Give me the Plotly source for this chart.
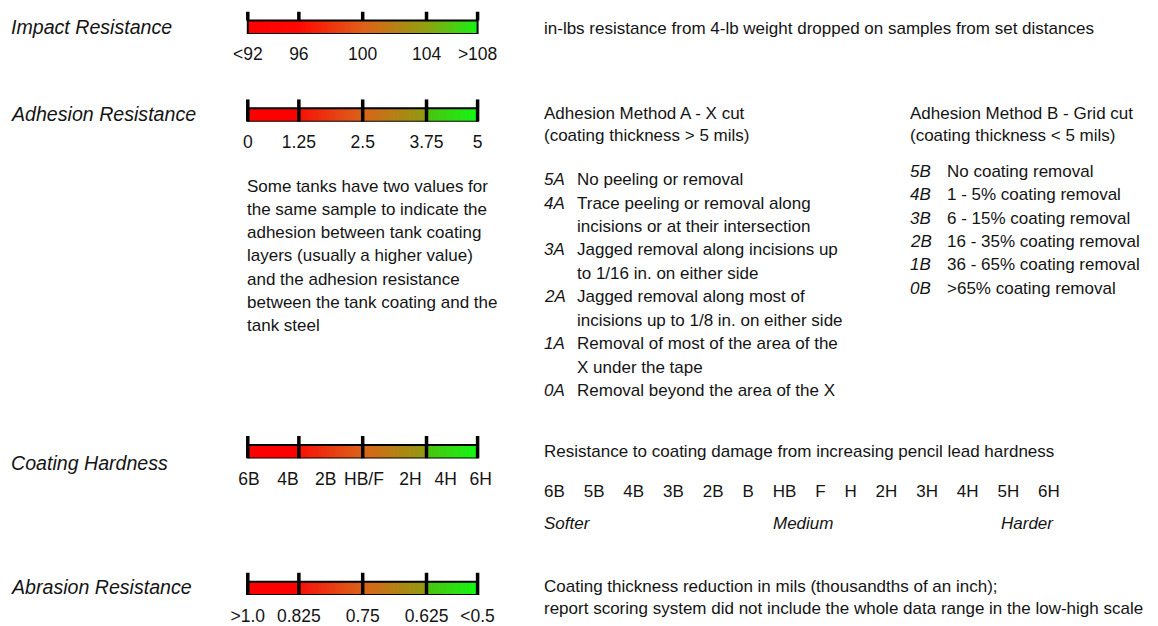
import numpy as np
import plotly.graph_objects as go

# ---------------- data ----------------
scale_titles = ["Impact Resistance", "Adhesion Resistance", "Coating Hardness", "Abrasion Resistance"]
impact_ticks = ["<92", "96", "100", "104", ">108"]
adhesion_ticks = ["0", "1.25", "2.5", "3.75", "5"]
hardness_ticks = ["6B", "4B", "2B", "HB/F", "2H", "4H", "6H"]
abrasion_ticks = [">1.0", "0.825", "0.75", "0.625", "<0.5"]

impact_desc = "in-lbs resistance from 4-lb weight dropped on samples from set distances"
method_a_header = ["Adhesion Method A - X cut", "(coating thickness > 5 mils)"]
method_a_codes = ["5A", "4A", "3A", "2A", "1A", "0A"]
method_a_text = [
    ["No peeling or removal"],
    ["Trace peeling or removal along", "incisions or at their intersection"],
    ["Jagged removal along incisions up", "to 1/16 in. on either side"],
    ["Jagged removal along most of", "incisions up to 1/8 in. on either side"],
    ["Removal of most of the area of the", "X under the tape"],
    ["Removal beyond the area of the X"],
]
method_b_header = ["Adhesion Method B - Grid cut", "(coating thickness < 5 mils)"]
method_b_codes = ["5B", "4B", "3B", "2B", "1B", "0B"]
method_b_text = ["No coating removal", "1 - 5% coating removal", "6 - 15% coating removal",
                 "16 - 35% coating removal", "36 - 65% coating removal", ">65% coating removal"]
adhesion_note = ["Some tanks have two values for", "the same sample to indicate the",
                 "adhesion between tank coating", "layers (usually a higher value)",
                 "and the adhesion resistance", "between the tank coating and the", "tank steel"]
hardness_desc = "Resistance to coating damage from increasing pencil lead hardness"
pencil_grades = ["6B", "5B", "4B", "3B", "2B", "B", "HB", "F", "H", "2H", "3H", "4H", "5H", "6H"]
hardness_words = ["Softer", "Medium", "Harder"]
abrasion_desc = ["Coating thickness reduction in mils (thousandths of an inch);",
                 "report scoring system did not include the whole data range in the low-high scale"]

# ---------------- layout helpers ----------------
PAGE_W, PAGE_H = 1158, 626
OFF = 8                      # page body margin
W, H = PAGE_W - OFF, PAGE_H - OFF
FONT = "Liberation Sans, Arial, sans-serif"
TXT = "#141414"
FS = 17
DY = 1.2                     # visual centring of annotation text

def fx(px):
    return (px - OFF) / W

def fy(py):
    return 1 - (py - OFF) / H

tick_pos = [0, 0.8, 1.8, 2.8, 3.6]          # axis units of the five scale ticks
hard_label_pos = [0.02, 0.63, 1.22, 1.82, 2.55, 3.1, 3.65]
BAR_END = 3.6
X0_PX = 248.0
UNIT = 230.0 / BAR_END
YTOP = 1.67

rows = [  # (bar bottom px, tick labels, label positions, ticks through bar?)
    (34, impact_ticks, tick_pos, False),
    (122, adhesion_ticks, tick_pos, True),
    (460, hardness_ticks, hard_label_pos, True),
    (597, abrasion_ticks, tick_pos, True),
]

smooth_cs = [[0, "#ff0000"], [0.222, "#ff0800"], [0.5, "#e06018"], [0.778, "#90a010"], [1, "#12f412"]]
step_cs = [[0, "#ff0000"], [0.222, "#ff0000"], [0.2225, "#f81008"], [0.5, "#da6418"],
           [0.778, "#8e9c10"], [0.7785, "#4cc210"], [1, "#12f812"]]

fig = go.Figure()
layout = dict(width=W, height=H, margin=dict(l=0, r=0, t=0, b=0), plot_bgcolor="white",
              paper_bgcolor="white", showlegend=False, hovermode=False)

ncol = 230
edges = np.linspace(0, BAR_END, ncol + 1)
centers = (edges[:-1] + edges[1:]) / 2
bar_h_px = 13.5
for i, (bottom, labels, lpos, through) in enumerate(rows):
    k = "" if i == 0 else str(i + 1)
    top_px = bottom - bar_h_px * YTOP
    fig.add_trace(go.Heatmap(x=edges, y=[0, 1], z=[centers], zmin=0, zmax=BAR_END,
                             colorscale=smooth_cs if i == 0 else step_cs, showscale=False,
                             xaxis="x" + k, yaxis="y" + k, hoverinfo="skip"))
    fig.add_trace(go.Scatter(x=[0, BAR_END, BAR_END, 0, 0], y=[0, 0, 1, 1, 0], mode="lines",
                             line=dict(color="black", width=2), xaxis="x" + k, yaxis="y" + k,
                             cliponaxis=False))
    tx, ty = [], []
    for p in tick_pos:
        tx += [p, p, None]
        ty += [0 if through else 1, YTOP, None]
    fig.add_trace(go.Scatter(x=tx, y=ty, mode="lines", line=dict(color="black", width=3.5),
                             xaxis="x" + k, yaxis="y" + k, cliponaxis=False))
    layout["xaxis" + k] = dict(domain=[fx(X0_PX - 0.3 * UNIT), fx(X0_PX + 3.9 * UNIT)],
                               range=[-0.3, 3.9], anchor="y" + k, showgrid=False, zeroline=False,
                               showline=False, ticks="", tickvals=lpos, ticktext=labels,
                               tickfont=dict(family=FONT, size=17.5, color=TXT), ticklabelstandoff=8,
                               fixedrange=True)
    layout["yaxis" + k] = dict(domain=[fy(bottom), fy(top_px)], range=[0, YTOP], anchor="x" + k,
                               visible=False, fixedrange=True)

ann = []

def text(px, py, s, size=FS, italic=False, anchor="left"):
    ann.append(dict(x=fx(px), y=fy(py + DY), xref="paper", yref="paper", text=s, showarrow=False,
                    xanchor=anchor, yanchor="middle",
                    font=dict(family=FONT, size=size, color=TXT, style="italic" if italic else "normal")))

for t, py in zip(scale_titles, [26, 113, 463, 588]):
    text(9, py, t, size=19.6, italic=True)

text(542, 27, impact_desc)
for j, s in enumerate(method_a_header):
    text(542, 113 + 22 * j, s)
ya = 179
for code, lines in zip(method_a_codes, method_a_text):
    text(542, ya, code, italic=True)
    for line in lines:
        text(575, ya, line)
        ya += 23.5
for j, s in enumerate(method_b_header):
    text(909, 113 + 22 * j, s)
for j, (code, s) in enumerate(zip(method_b_codes, method_b_text)):
    text(909, 171 + 23.4 * j, code, italic=True)
    text(946, 171 + 23.4 * j, s)
for j, s in enumerate(adhesion_note):
    text(245, 186 + 23.2 * j, s)

text(542, 452, hardness_desc)
text(542, 492, ("\u00a0" * 4).join(pencil_grades))
text(542, 524, hardness_words[0], italic=True)
text(804, 524, hardness_words[1], italic=True, anchor="center")
text(1057, 524, hardness_words[2], italic=True, anchor="right")
for j, s in enumerate(abrasion_desc):
    text(542, 587 + 22 * j, s)

layout["annotations"] = ann
fig.update_layout(**layout)
fig.write_html("out.html", config={"displayModeBar": False})
